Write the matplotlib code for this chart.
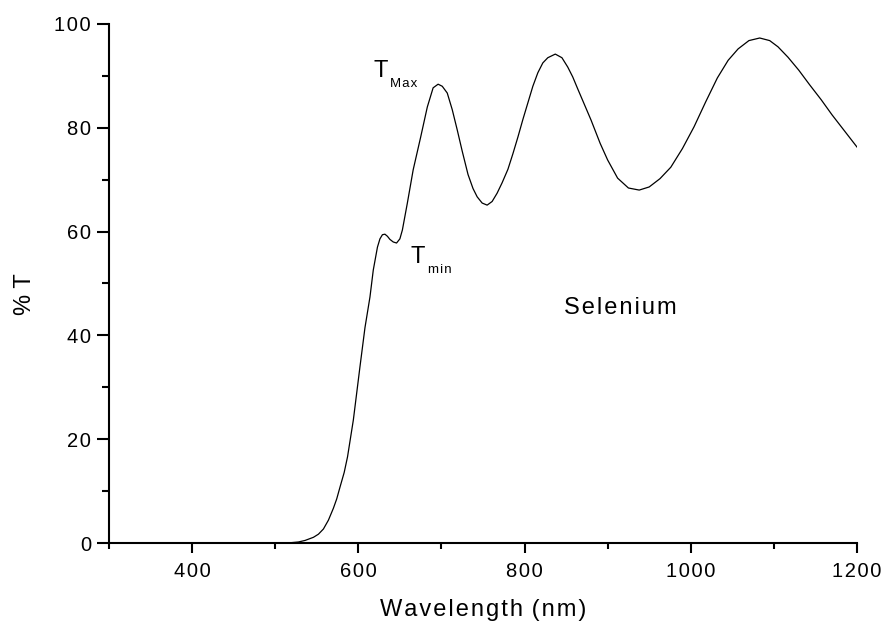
import matplotlib
matplotlib.use("Agg")
import matplotlib.pyplot as plt
from matplotlib.ticker import MultipleLocator, FuncFormatter

plt.rcParams['font.family'] = ['Liberation Sans', 'DejaVu Sans']

# Transmission spectrum of a selenium film
wavelength = [300, 400, 500, 518, 528, 536, 546, 552, 558, 564, 570, 574, 578,
              583, 587, 594, 602, 608, 614, 618, 623, 626, 629, 632, 635, 638,
              642, 646, 650, 653, 659, 666, 675, 683, 690, 696, 701, 707, 713,
              719, 725, 732, 738, 743, 749, 755, 761, 767, 773, 780, 786, 792,
              798, 804, 810, 816, 822, 828, 837, 845, 852, 858, 864, 872, 880,
              891, 900, 912, 925, 938, 950, 963, 976, 990, 1004, 1018, 1032,
              1045, 1057, 1070, 1083, 1095, 1105, 1117, 1130, 1143, 1157, 1170,
              1185, 1200]
transmission = [0, 0, 0, 0.05, 0.2, 0.5, 1.1, 1.7, 2.7, 4.4, 6.7, 8.5, 10.8,
                13.6, 16.6, 23.7, 34, 41.5, 47.4, 52.6, 57, 58.6, 59.4, 59.5,
                59.1, 58.5, 58.0, 57.8, 58.6, 60.3, 65.5, 71.9, 78.2, 84, 87.7,
                88.4, 88.0, 86.7, 83.5, 79.6, 75.5, 71, 68.3, 66.7, 65.5, 65.1,
                65.8, 67.4, 69.4, 72, 75, 78.2, 81.6, 84.8, 88, 90.6, 92.5, 93.5,
                94.2, 93.5, 91.7, 89.8, 87.5, 84.5, 81.5, 77, 73.8, 70.3, 68.4,
                68, 68.6, 70.2, 72.4, 76, 80.2, 85, 89.6, 93, 95.2, 96.8, 97.3,
                96.8, 95.6, 93.6, 91.1, 88.3, 85.4, 82.5, 79.4, 76.3]

x_major = [400, 600, 800, 1000, 1200]
y_major = [0, 20, 40, 60, 80, 100]


def spaced(s):
    """Open up the letter spacing of a label with hair spaces."""
    return '\u200a'.join(s)


fig = plt.figure(figsize=(8.82, 6.23), dpi=100)
ax = fig.add_axes([0.1236, 0.1284, 0.8480, 0.8331])

ax.plot(wavelength, transmission, color='black', linewidth=0.9)

ax.set_xlim(300, 1200)
ax.set_ylim(0, 100)
ax.set_xticks(x_major)
ax.set_yticks(y_major)
ax.xaxis.set_minor_locator(MultipleLocator(100))
ax.yaxis.set_minor_locator(MultipleLocator(10))
tick_fmt = FuncFormatter(lambda v, pos: spaced(f'{v:.0f}'))
ax.xaxis.set_major_formatter(tick_fmt)
ax.yaxis.set_major_formatter(tick_fmt)

for side in ('top', 'right'):
    ax.spines[side].set_visible(False)
for side in ('left', 'bottom'):
    ax.spines[side].set_linewidth(1.5)

ax.tick_params(axis='x', which='major', direction='out', length=7.5, width=1.5,
               labelsize=14.5, pad=6)
ax.tick_params(axis='x', which='minor', direction='out', length=4, width=1.5)
ax.tick_params(axis='y', which='major', direction='out', length=9, width=1.5,
               labelsize=14.5, pad=4)
ax.tick_params(axis='y', which='minor', direction='out', length=5, width=1.5)

ax.set_xlabel(spaced('Wavelength') + ' \u200a' + spaced('(nm)'), fontsize=17,
              labelpad=13)
ax.set_ylabel('% T', fontsize=17)
ax.yaxis.set_label_coords(-0.097, 0.48)

ax.text(618, 89.8, 'T', fontsize=17)
ax.text(638.5, 87.9, spaced('Max'), fontsize=9.5)
ax.text(662.5, 54.0, 'T', fontsize=17)
ax.text(684, 52.0, spaced('min'), fontsize=9.5)
ax.text(847, 45.3, spaced('Selenium'), fontsize=17, va='center')

fig.savefig('out.png', dpi=100)
